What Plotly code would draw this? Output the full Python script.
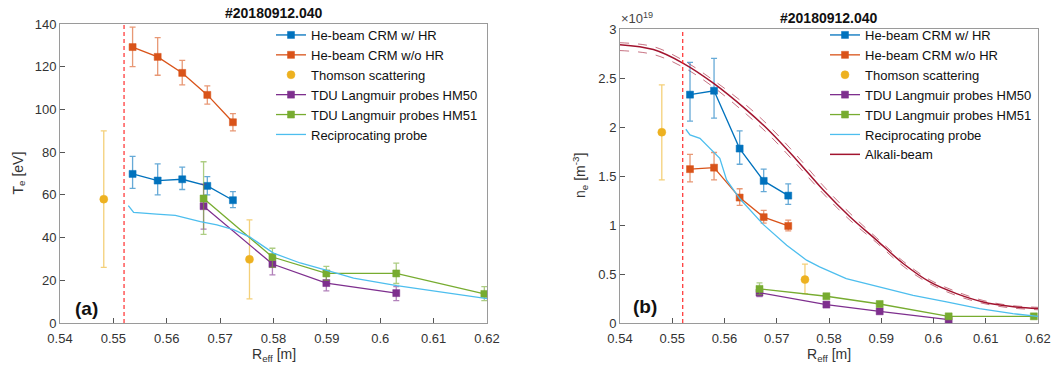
import plotly.graph_objects as go

# ---------------- data: panel (a) Te [eV] ----------------
he_x = [0.5536, 0.5583, 0.5629, 0.5676, 0.5724]
he_hr_te = [69.8, 66.7, 67.3, 64.2, 57.5]
he_hr_te_hi = [78.0, 74.5, 73.0, 68.5, 61.5]
he_hr_te_lo = [63.0, 60.0, 62.5, 60.0, 54.0]
he_nohr_te = [129.2, 124.6, 117.1, 106.8, 94.0]
he_nohr_te_hi = [138.5, 133.6, 123.0, 111.0, 98.0]
he_nohr_te_lo = [120.0, 116.0, 111.5, 102.5, 90.0]

ts_x = [0.5482, 0.5755]
ts_te = [58.0, 29.8]
ts_te_hi = [90.0, 48.3]
ts_te_lo = [26.0, 11.3]

hm50_x = [0.5669, 0.5798, 0.5899, 0.6030]
hm50_te = [54.7, 27.6, 18.7, 14.0]
hm50_te_hi = [65.0, 32.0, 22.0, 17.0]
hm50_te_lo = [44.0, 22.5, 15.0, 10.5]

hm51_x = [0.5669, 0.5798, 0.5899, 0.6030, 0.6195]
hm51_te = [58.3, 30.9, 23.2, 23.2, 13.6]
hm51_te_hi = [75.5, 35.0, 26.5, 28.0, 17.0]
hm51_te_lo = [41.5, 26.0, 20.0, 18.5, 10.5]

rp_te_x = [0.5528, 0.5538, 0.5581, 0.5616, 0.5663, 0.5694, 0.5725, 0.5756,
           0.5800, 0.5850, 0.5900, 0.5950, 0.6031, 0.6100, 0.6200]
rp_te = [55.0, 51.8, 51.0, 50.4, 47.5, 46.0, 43.7, 40.2,
         32.7, 28.1, 24.6, 21.0, 17.5, 15.0, 11.4]

# ---------------- data: panel (b) ne [1e19 m^-3] ----------------
he_ne_x = [0.5534, 0.5580, 0.5629, 0.5675, 0.5722]
he_hr_ne = [2.33, 2.37, 1.78, 1.45, 1.30]
he_hr_ne_hi = [2.66, 2.70, 1.96, 1.57, 1.42]
he_hr_ne_lo = [2.06, 2.09, 1.62, 1.34, 1.21]
he_nohr_ne = [1.57, 1.585, 1.28, 1.08, 0.99]
he_nohr_ne_hi = [1.72, 1.74, 1.37, 1.15, 1.05]
he_nohr_ne_lo = [1.44, 1.46, 1.20, 1.02, 0.94]

ts_ne_x = [0.5480, 0.5754]
ts_ne = [1.947, 0.443]
ts_ne_hi = [2.43, 0.60]
ts_ne_lo = [1.46, 0.30]

hm50_ne_x = [0.5667, 0.5795, 0.5897, 0.6029]
hm50_ne = [0.31, 0.188, 0.119, 0.034]
hm50_ne_hi = [0.36, 0.21, 0.14, 0.05]
hm50_ne_lo = [0.27, 0.17, 0.10, 0.02]

hm51_ne_x = [0.5667, 0.5795, 0.5897, 0.6029, 0.6192]
hm51_ne = [0.348, 0.273, 0.194, 0.068, 0.068]
hm51_ne_hi = [0.41, 0.29, 0.21, 0.08, 0.08]
hm51_ne_lo = [0.29, 0.255, 0.18, 0.055, 0.055]

rp_ne_x = [0.5526, 0.5534, 0.5553, 0.5578, 0.5591, 0.5604, 0.5629, 0.5674,
           0.5719, 0.5757, 0.5782, 0.5833, 0.5897, 0.5961, 0.6025, 0.6088,
           0.6152, 0.6200]
rp_ne = [1.977, 1.92, 1.885, 1.75, 1.68, 1.46, 1.27, 1.006,
         0.794, 0.641, 0.573, 0.453, 0.368, 0.283, 0.215, 0.147,
         0.095, 0.068]

ab_x = [0.5400, 0.5464, 0.5521, 0.5578, 0.5642, 0.5687, 0.5738, 0.5789,
        0.5840, 0.5891, 0.5942, 0.5993, 0.6044, 0.6095, 0.6146, 0.6200]
ab_ne = [2.84, 2.79, 2.65, 2.45, 2.175, 1.954, 1.664, 1.357,
         1.084, 0.846, 0.607, 0.419, 0.30, 0.215, 0.17, 0.147]
ab_ne_up = [2.86, 2.82, 2.68, 2.48, 2.22, 2.00, 1.71, 1.40,
            1.12, 0.87, 0.63, 0.44, 0.32, 0.23, 0.18, 0.16]
ab_ne_lo = [2.78, 2.74, 2.61, 2.41, 2.13, 1.91, 1.62, 1.32,
            1.05, 0.82, 0.58, 0.40, 0.28, 0.20, 0.155, 0.135]

separatrix_r = 0.552
x_ticks = [0.54, 0.55, 0.56, 0.57, 0.58, 0.59, 0.60, 0.61, 0.62]
te_ticks = [0, 20, 40, 60, 80, 100, 120, 140]
ne_ticks = [0, 0.5, 1, 1.5, 2, 2.5, 3]
shot_title = "#20180912.040"

C_BLUE = "#0072BD"
C_ORANGE = "#D95319"
C_YELLOW = "#EDB120"
C_PURPLE = "#7E2F8E"
C_GREEN = "#77AC30"
C_LBLUE = "#4DBEEE"
C_DRED = "#A2142F"

FONT = "Liberation Sans, Arial, sans-serif"

W, H = 1061, 372


def px(x):
    return x / W


def py(y):
    return 1 - y / H


def rgba(hexc, a):
    h = hexc.lstrip("#")
    return "rgba(%d,%d,%d,%.2f)" % (int(h[0:2], 16), int(h[2:4], 16), int(h[4:6], 16), a)


def err(y, hi, lo, color):
    return dict(type="data", symmetric=False,
                array=[h - v for h, v in zip(hi, y)],
                arrayminus=[v - l for v, l in zip(y, lo)],
                color=rgba(color, 0.6), thickness=1.3, width=3)


fig = go.Figure()


def add_err_series(x, y, hi, lo, color, name, xa, ya, leg, symbol="square", lines=True, size=7):
    fig.add_trace(go.Scatter(
        x=x, y=y, name=name, mode="lines+markers" if lines else "markers",
        line=dict(color=color, width=1.3),
        marker=dict(symbol=symbol, size=size, color=color,
                    line=dict(color=rgba(color, 0.5), width=1)),
        error_y=err(y, hi, lo, color), xaxis=xa, yaxis=ya, legend=leg))


# panel (a)
add_err_series(he_x, he_hr_te, he_hr_te_hi, he_hr_te_lo, C_BLUE, "He-beam CRM w/ HR", "x", "y", "legend")
add_err_series(he_x, he_nohr_te, he_nohr_te_hi, he_nohr_te_lo, C_ORANGE, "He-beam CRM w/o HR", "x", "y", "legend")
add_err_series(ts_x, ts_te, ts_te_hi, ts_te_lo, C_YELLOW, "Thomson scattering", "x", "y", "legend",
               symbol="circle", lines=False, size=8)
add_err_series(hm50_x, hm50_te, hm50_te_hi, hm50_te_lo, C_PURPLE, "TDU Langmuir probes HM50", "x", "y", "legend")
add_err_series(hm51_x, hm51_te, hm51_te_hi, hm51_te_lo, C_GREEN, "TDU Langmuir probes HM51", "x", "y", "legend")
fig.add_trace(go.Scatter(x=rp_te_x, y=rp_te, mode="lines", name="Reciprocating probe",
                         line=dict(color=C_LBLUE, width=1.3), xaxis="x", yaxis="y", legend="legend"))

# panel (b)
fig.add_trace(go.Scatter(x=ab_x, y=ab_ne_up, mode="lines", showlegend=False,
                         line=dict(color=rgba(C_DRED, 0.6), width=1, dash="dash", shape="spline"),
                         xaxis="x2", yaxis="y2", hoverinfo="skip"))
fig.add_trace(go.Scatter(x=ab_x, y=ab_ne_lo, mode="lines", showlegend=False,
                         line=dict(color=rgba(C_DRED, 0.6), width=1, dash="dash", shape="spline"),
                         xaxis="x2", yaxis="y2", hoverinfo="skip"))
add_err_series(he_ne_x, he_hr_ne, he_hr_ne_hi, he_hr_ne_lo, C_BLUE, "He-beam CRM w/ HR", "x2", "y2", "legend2")
add_err_series(he_ne_x, he_nohr_ne, he_nohr_ne_hi, he_nohr_ne_lo, C_ORANGE, "He-beam CRM w/o HR", "x2", "y2", "legend2")
add_err_series(ts_ne_x, ts_ne, ts_ne_hi, ts_ne_lo, C_YELLOW, "Thomson scattering", "x2", "y2", "legend2",
               symbol="circle", lines=False, size=8)
add_err_series(hm50_ne_x, hm50_ne, hm50_ne_hi, hm50_ne_lo, C_PURPLE, "TDU Langmuir probes HM50", "x2", "y2", "legend2")
add_err_series(hm51_ne_x, hm51_ne, hm51_ne_hi, hm51_ne_lo, C_GREEN, "TDU Langmuir probes HM51", "x2", "y2", "legend2")
fig.add_trace(go.Scatter(x=rp_ne_x, y=rp_ne, mode="lines", name="Reciprocating probe",
                         line=dict(color=C_LBLUE, width=1.3), xaxis="x2", yaxis="y2", legend="legend2"))
fig.add_trace(go.Scatter(x=ab_x, y=ab_ne, mode="lines", name="Alkali-beam",
                         line=dict(color=C_DRED, width=1.5, shape="spline"),
                         xaxis="x2", yaxis="y2", legend="legend2"))

axis_common = dict(showline=True, linecolor="#9a9a9a", linewidth=1, mirror=True, automargin=False,
                   ticks="inside", ticklen=5, tickcolor="#555", showgrid=False, zeroline=False,
                   tickfont=dict(family=FONT, size=13, color="#333"))
xaxis_extra = dict(ticklabelstandoff=3)

# window pixel boxes of the two plot areas
A_L, A_R, A_T, A_B = 60, 487, 24, 323
B_L, B_R, B_T, B_B = 620, 1038, 29, 323

fig.update_layout(
    template="none",
    width=W, height=H, margin=dict(l=0, r=0, t=0, b=0, autoexpand=False),
    paper_bgcolor="white", plot_bgcolor="white",
    font=dict(family=FONT, color="#262626"),
    xaxis=dict(domain=[px(A_L), px(A_R)], range=[0.54, 0.62], tickvals=x_ticks,
               ticktext=[f"{v:g}" for v in x_ticks], anchor="y", **axis_common, **xaxis_extra),
    yaxis=dict(domain=[py(A_B), py(A_T)], range=[0, 140], tickvals=te_ticks,
               anchor="x", **axis_common),
    xaxis2=dict(domain=[px(B_L), px(B_R)], range=[0.54, 0.62], tickvals=x_ticks,
                ticktext=[f"{v:g}" for v in x_ticks], anchor="y2", **axis_common, **xaxis_extra),
    yaxis2=dict(domain=[py(B_B), py(B_T)], range=[0, 3], tickvals=ne_ticks,
                ticktext=[f"{v:g}" for v in ne_ticks], anchor="x2", **axis_common),
    legend=dict(x=px(271), y=py(20), xanchor="left", yanchor="top",
                bgcolor="rgba(255,255,255,0)", font=dict(family=FONT, size=13, color="#111"),
                tracegroupgap=0),
    legend2=dict(x=px(825), y=py(20), xanchor="left", yanchor="top",
                 bgcolor="rgba(255,255,255,0)", font=dict(family=FONT, size=13, color="#111"),
                 tracegroupgap=0),
    shapes=[
        dict(type="line", xref="x", yref="y domain", x0=separatrix_r, x1=separatrix_r, y0=0, y1=1,
             line=dict(color="rgba(255,40,40,0.9)", width=1.3, dash="4px,3px")),
        dict(type="line", xref="x2", yref="y2 domain", x0=separatrix_r, x1=separatrix_r, y0=0, y1=1,
             line=dict(color="rgba(255,40,40,0.9)", width=1.3, dash="4px,3px")),
    ],
    annotations=[
        dict(text="<b>" + shot_title + "</b>", x=px((A_L + A_R) / 2), y=py(13), xref="paper", yref="paper",
             showarrow=False, font=dict(family=FONT, size=14, color="#111"), xanchor="center", yanchor="middle"),
        dict(text="<b>" + shot_title + "</b>", x=px((B_L + B_R) / 2), y=py(18), xref="paper", yref="paper",
             showarrow=False, font=dict(family=FONT, size=14, color="#111"), xanchor="center", yanchor="middle"),
        dict(text="T<sub>e</sub> [eV]", x=px(19), y=py((A_T + A_B) / 2), xref="paper", yref="paper",
             textangle=-90, showarrow=False, font=dict(family=FONT, size=14, color="#333"),
             xanchor="center", yanchor="middle"),
        dict(text="n<sub>e</sub> [m<sup>-3</sup>]", x=px(580), y=py((B_T + B_B) / 2),
             xref="paper", yref="paper", textangle=-90, showarrow=False,
             font=dict(family=FONT, size=14, color="#333"), xanchor="center", yanchor="middle"),
        dict(text="R<sub>eff</sub> [m]", x=px((A_L + A_R) / 2), y=py(355), xref="paper", yref="paper",
             showarrow=False, font=dict(family=FONT, size=14, color="#333"), xanchor="center", yanchor="middle"),
        dict(text="R<sub>eff</sub> [m]", x=px((B_L + B_R) / 2), y=py(355), xref="paper", yref="paper",
             showarrow=False, font=dict(family=FONT, size=14, color="#333"), xanchor="center", yanchor="middle"),
        dict(text="×10<sup>19</sup>", x=px(619), y=py(18), xref="paper", yref="paper",
             showarrow=False, font=dict(family=FONT, size=13, color="#444"), xanchor="left", yanchor="middle"),
        dict(text="<b>(a)</b>", x=0.545, y=7, xref="x", yref="y", showarrow=False,
             font=dict(family=FONT, size=19, color="#111"), xanchor="center", yanchor="middle"),
        dict(text="<b>(b)</b>", x=0.5448, y=0.17, xref="x2", yref="y2", showarrow=False,
             font=dict(family=FONT, size=19, color="#111"), xanchor="center", yanchor="middle"),
    ],
)

fig.write_html("out.html", config={"displayModeBar": False},
               post_script="document.body.style.margin='0';document.body.style.padding='0';"
                           "document.body.style.overflow='hidden';")
